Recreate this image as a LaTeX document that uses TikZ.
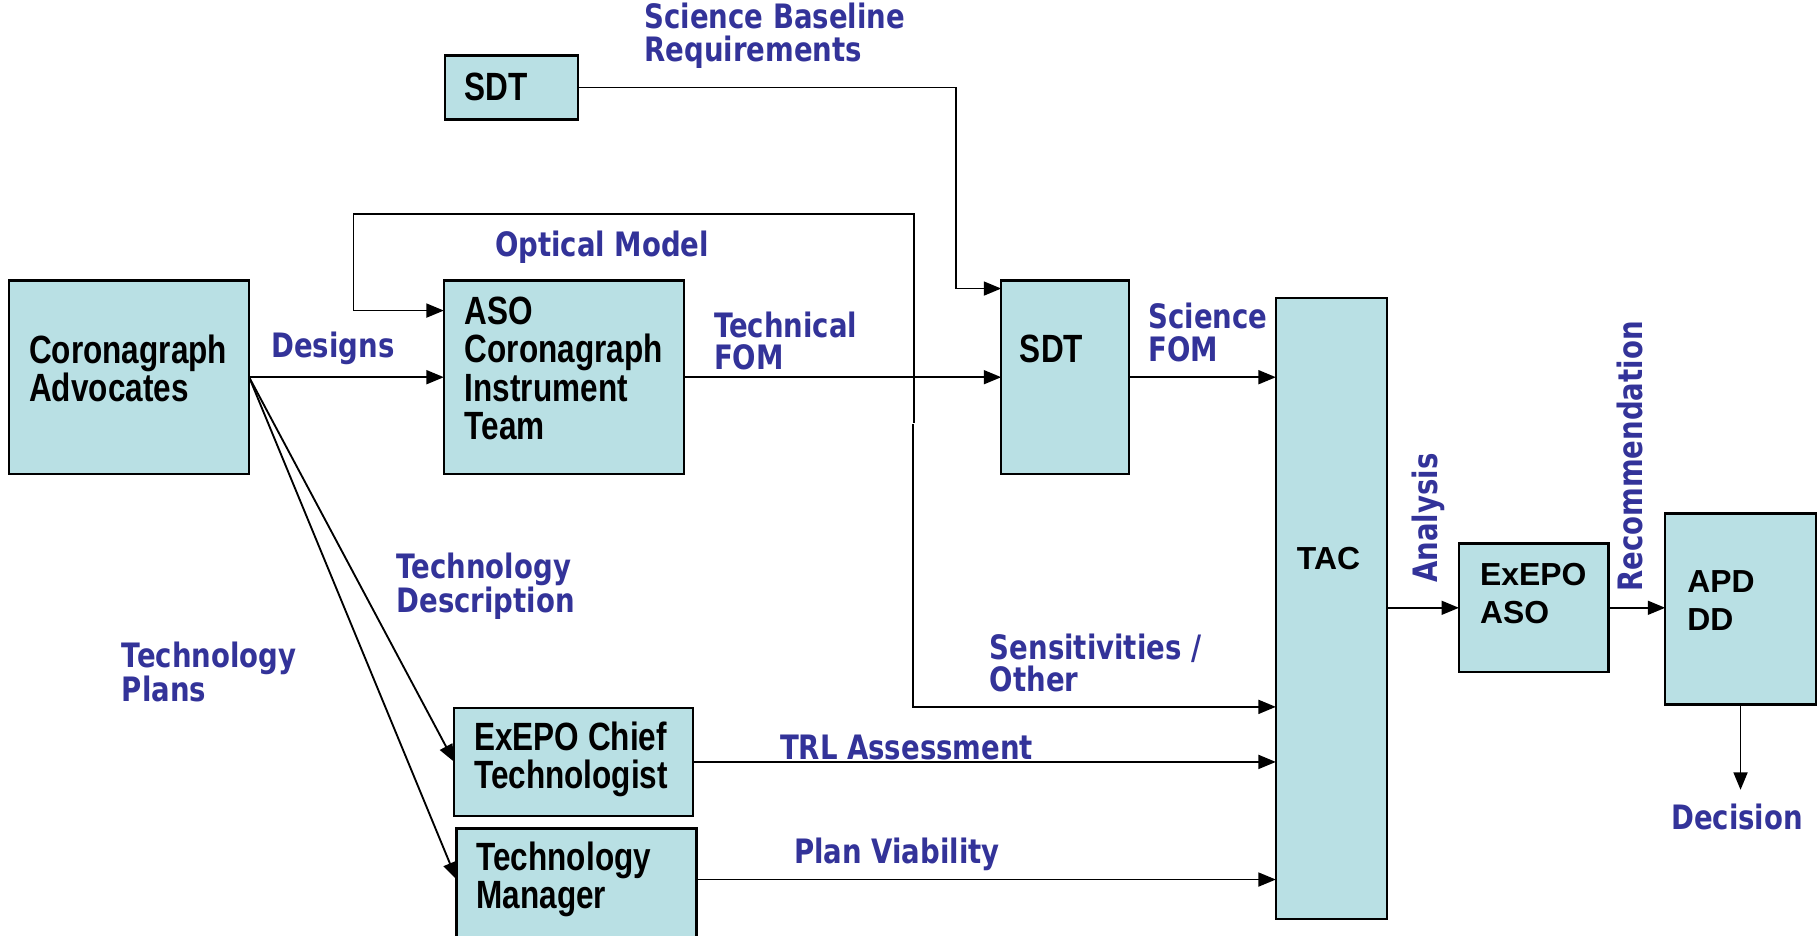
\documentclass[tikz,border=0pt]{standalone}
\usepackage{fontspec}
\usetikzlibrary{arrows.meta}
\newfontfamily\bxnarrow[FakeStretch=0.8]{Liberation Sans}
\newfontfamily\bxwide{Liberation Sans}
\newfontfamily\lblfont[FakeStretch=0.82]{DejaVu Sans}
\definecolor{boxfill}{RGB}{185,224,228}
\definecolor{lblblue}{RGB}{51,51,153}
\begin{document}
\begin{tikzpicture}[x=1pt,y=-1pt,
  box/.style={draw=black, line width=2pt, fill=boxfill, inner sep=0pt, outer sep=0pt, anchor=north west},
  ntxt/.style={font=\bxnarrow\bfseries\fontsize{34}{33}\selectfont, inner sep=0pt, align=left, anchor=west},
  wtxt/.style={font=\bxwide\bfseries\fontsize{27.5}{33}\selectfont, inner sep=0pt, align=left, anchor=west},
  lbl/.style={text=lblblue, font=\lblfont\bfseries\fontsize{29}{28}\selectfont, inner sep=0pt, align=left, anchor=west},
  conn/.style={draw=black, line width=1.6pt, -{Triangle[length=15pt,width=12pt]}},
  plain/.style={draw=black, line width=1.6pt}]
\path[use as bounding box, fill=white] (0,0) rectangle (1568,807);

% boxes
\node[box, minimum width=207pt, minimum height=167pt] (ca) at (8,242) {};
\node[box, minimum width=207pt, minimum height=167pt] (aso) at (383,242) {};
\node[box, minimum width=115pt, minimum height=55pt] (sdttop) at (384,48) {};
\node[box, minimum width=110pt, minimum height=167pt] (sdtmid) at (864,242) {};
\node[box, minimum width=96pt, minimum height=536pt] (tac) at (1101,257) {};
\node[box, minimum width=129pt, minimum height=111pt] (ea) at (1259,469) {};
\node[box, minimum width=130pt, minimum height=165pt] (apd) at (1437,443) {};
\node[box, minimum width=206pt, minimum height=93pt] (ect) at (392,611) {};
\node[box, minimum width=207pt, minimum height=110pt] (tm) at (394,715) {};

% box texts
\node[ntxt] (catxt) at (25,318) {Coronagraph\\Advocates};
\node[ntxt] (asotxt) at (401,318) {ASO\\Coronagraph\\Instrument\\Team};
\node[ntxt] (sdttoptxt) at (401,75) {SDT};
\node[ntxt] (sdtmidtxt) at (880,301) {SDT};
\node[wtxt] (tactxt) at (1119,482) {TAC};
\node[wtxt] (eatxt) at (1277,512) {ExEPO\\ASO};
\node[wtxt] (apdtxt) at (1456,518) {APD\\DD};
\node[ntxt] (ecttxt) at (409,655) {ExEPO Chief\\Technologist};
\node[ntxt] (tmtxt) at (411,759) {Technology\\Manager};

% labels
\node[lbl] (lsbr) at (556,31) {Science Baseline\\Requirements};
\node[lbl] (lom) at (427,213) {Optical Model};
\node[lbl] (ldes) at (234,301) {Designs};
\node[lbl] (ltf) at (616,294) {Technical\\FOM};
\node[lbl] (lsf) at (991,287) {Science\\FOM};
\node[lbl] (ltd) at (342,506) {Technology\\Description};
\node[lbl] (ltp) at (105,580) {Technology\\Plans};
\node[lbl] (lso) at (854,572) {Sensitivities /\\Other};
\node[lbl] (ltrl) at (673,645) {TRL Assessment};
\node[lbl] (lpv) at (685,737) {Plan Viability};
\node[lbl, rotate=90, anchor=center] (lan) at (1233,447) {Analysis};
\node[lbl, rotate=90, anchor=center] (lrec) at (1407,394) {Recommendation};
\node[lbl, anchor=center] (ldec) at (1499,705) {Decision};

% helper coordinates
\coordinate (k1) at (825,249);
\coordinate (ol1) at (789,365);
\coordinate (ol2) at (305,185);
\coordinate (ol3) at (0,268);
\coordinate (sl1) at (788,366);
\coordinate (sl2) at (0,610);

% connectors
\draw[conn] (sdttop.east) -| (k1) -- (k1 -| sdtmid.west);
\draw[conn] (ol1) |- (ol2) |- (ol3 -| aso.west);
\draw[conn] (sl1) |- (sl2 -| tac.west);
\draw[conn] (ca.east) -- (aso.west);
\draw[conn] (aso.east) -- (sdtmid.west);
\draw[conn] (sdtmid.east) -- (sdtmid.east -| tac.west);
\draw[conn] (ca.east) -- (ect.west);
\draw[conn] (ca.east) -- (tm.west |- tmtxt.west);
\draw[conn] (ect.east) -- (ect.east -| tac.west);
\draw[conn] (tm.east |- tmtxt.west) -- (tmtxt.west -| tac.west);
\draw[conn] (tac.east |- ea.west) -- (ea.west);
\draw[conn] (ea.east) -- (ea.east -| apd.west);
\draw[conn, shorten >=12pt] (apd.south) -- (apd.south |- ldec.north);
\end{tikzpicture}
\end{document}
